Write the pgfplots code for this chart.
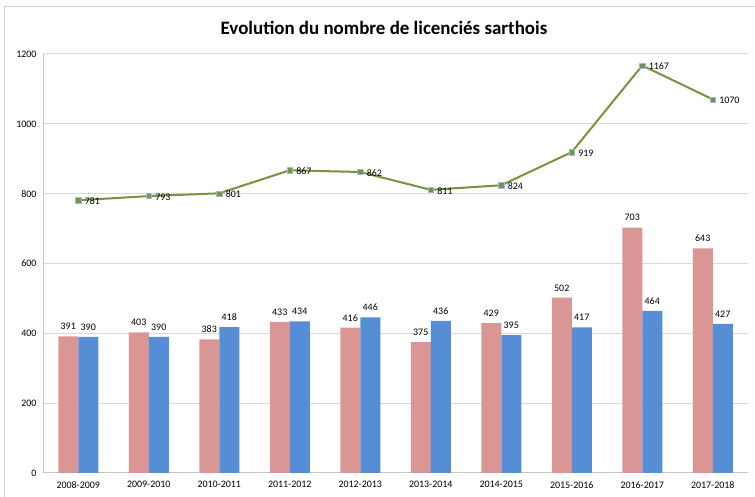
\documentclass[border=0pt]{standalone}
\usepackage{fontspec}
\setmainfont{Carlito}
\usepackage{pgfplots}
\pgfplotsset{compat=1.18}
\definecolor{barpink}{RGB}{217,150,148}
\definecolor{barblue}{RGB}{85,142,213}
\definecolor{linegreen}{RGB}{119,147,60}
\definecolor{gridgray}{RGB}{217,217,217}
\begin{document}
\begin{tikzpicture}[x=1bp,y=1bp]
\path[use as bounding box] (0,0) rectangle (755,497);
\draw[gray!35, line width=1bp] (4,-10) -- (4,490) -- (770,490);
\node[font=\fontsize{19}{22}\selectfont\bfseries] at (384,469) {Evolution du nombre de licenciés sarthois};
\begin{axis}[at={(43bp,24bp)}, anchor=south west, scale only axis,
  width=705bp, height=419bp,
  xmin=-0.5, xmax=9.5, ymin=0, ymax=1200,
  ytick={0,200,...,1200}, xtick={0,...,9},
  xticklabels={2008-2009,2009-2010,2010-2011,2011-2012,2012-2013,2013-2014,2014-2015,2015-2016,2016-2017,2017-2018},
  ymajorgrids, grid style={gridgray, line width=1bp},
  axis x line*=bottom, axis y line*=left,
  axis line style={gray!45, line width=1bp},
  major tick length=0pt,
  tick label style={font=\fontsize{10}{12}\selectfont},
  xticklabel style={yshift=-5bp},
  yticklabel style={xshift=-3bp},
  /pgf/number format/assume math mode=true,
  /pgf/number format/1000 sep={},
  clip=false]
\addplot[ybar, bar width=20bp, bar shift=-10bp, fill=barpink, draw=none,
  nodes near coords, nodes near coords style={font=\fontsize{10}{12}\selectfont, black, anchor=south, xshift=-10bp, yshift=3bp}]
  coordinates {(0,391) (1,403) (2,383) (3,433) (4,416) (5,375) (6,429) (7,502) (8,703) (9,643)};
\addplot[ybar, bar width=20bp, bar shift=10bp, fill=barblue, draw=none,
  nodes near coords, nodes near coords style={font=\fontsize{10}{12}\selectfont, black, anchor=south, xshift=10bp, yshift=3bp}]
  coordinates {(0,390) (1,390) (2,418) (3,434) (4,446) (5,436) (6,395) (7,417) (8,464) (9,427)};
\addplot[sharp plot, linegreen, line width=2bp, mark=square*,
  mark options={fill=linegreen, draw=barblue!60, line width=0.4bp}, mark size=2.6bp,
  nodes near coords, nodes near coords style={font=\fontsize{10}{12}\selectfont, black, anchor=west, xshift=3bp, yshift=-1bp}]
  coordinates {(0,781) (1,793) (2,801) (3,867) (4,862) (5,811) (6,824) (7,919) (8,1167) (9,1070)};
\end{axis}
\end{tikzpicture}
\end{document}
